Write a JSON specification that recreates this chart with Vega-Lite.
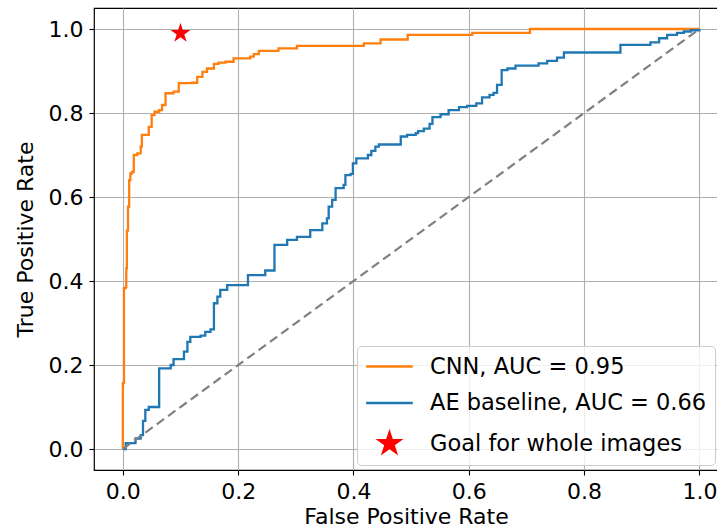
{
  "$schema": "https://vega.github.io/schema/vega-lite/v6.json",
  "width": 624,
  "height": 462,
  "autosize": {"type": "none"},
  "padding": {"left": 94, "top": 8, "right": 0, "bottom": 58},
  "background": "white",
  "config": {
    "font": "DejaVu Sans",
    "view": {"stroke": "#000000", "strokeWidth": 1.2},
    "axis": {
      "domain": false,
      "grid": true,
      "gridColor": "#b0b0b0",
      "gridWidth": 1.1,
      "tickColor": "#000000",
      "tickSize": 5,
      "tickWidth": 1.1,
      "labelFont": "DejaVu Sans",
      "labelFontSize": 22,
      "labelColor": "#000000",
      "labelPadding": 6,
      "titleFont": "DejaVu Sans",
      "titleFontSize": 22,
      "titleFontWeight": "normal",
      "titleColor": "#000000"
    }
  },
  "datasets": {
    "curves": [
      {"series": "CNN, AUC = 0.95", "i": 0, "fpr": 0.0, "tpr": 0.0},
      {"series": "CNN, AUC = 0.95", "i": 1, "fpr": 0.0, "tpr": 0.157},
      {"series": "CNN, AUC = 0.95", "i": 2, "fpr": 0.002, "tpr": 0.16},
      {"series": "CNN, AUC = 0.95", "i": 3, "fpr": 0.002, "tpr": 0.383},
      {"series": "CNN, AUC = 0.95", "i": 4, "fpr": 0.005, "tpr": 0.386},
      {"series": "CNN, AUC = 0.95", "i": 5, "fpr": 0.006, "tpr": 0.43},
      {"series": "CNN, AUC = 0.95", "i": 6, "fpr": 0.007, "tpr": 0.52},
      {"series": "CNN, AUC = 0.95", "i": 7, "fpr": 0.009, "tpr": 0.577},
      {"series": "CNN, AUC = 0.95", "i": 8, "fpr": 0.011, "tpr": 0.633},
      {"series": "CNN, AUC = 0.95", "i": 9, "fpr": 0.011, "tpr": 0.64},
      {"series": "CNN, AUC = 0.95", "i": 10, "fpr": 0.013, "tpr": 0.656},
      {"series": "CNN, AUC = 0.95", "i": 11, "fpr": 0.016, "tpr": 0.66},
      {"series": "CNN, AUC = 0.95", "i": 12, "fpr": 0.019, "tpr": 0.7},
      {"series": "CNN, AUC = 0.95", "i": 13, "fpr": 0.025, "tpr": 0.704},
      {"series": "CNN, AUC = 0.95", "i": 14, "fpr": 0.031, "tpr": 0.72},
      {"series": "CNN, AUC = 0.95", "i": 15, "fpr": 0.033, "tpr": 0.748},
      {"series": "CNN, AUC = 0.95", "i": 16, "fpr": 0.042, "tpr": 0.748},
      {"series": "CNN, AUC = 0.95", "i": 17, "fpr": 0.045, "tpr": 0.767},
      {"series": "CNN, AUC = 0.95", "i": 18, "fpr": 0.05, "tpr": 0.795},
      {"series": "CNN, AUC = 0.95", "i": 19, "fpr": 0.055, "tpr": 0.803},
      {"series": "CNN, AUC = 0.95", "i": 20, "fpr": 0.063, "tpr": 0.807},
      {"series": "CNN, AUC = 0.95", "i": 21, "fpr": 0.068, "tpr": 0.819},
      {"series": "CNN, AUC = 0.95", "i": 22, "fpr": 0.074, "tpr": 0.847},
      {"series": "CNN, AUC = 0.95", "i": 23, "fpr": 0.088, "tpr": 0.851},
      {"series": "CNN, AUC = 0.95", "i": 24, "fpr": 0.097, "tpr": 0.871},
      {"series": "CNN, AUC = 0.95", "i": 25, "fpr": 0.12, "tpr": 0.872},
      {"series": "CNN, AUC = 0.95", "i": 26, "fpr": 0.129, "tpr": 0.886},
      {"series": "CNN, AUC = 0.95", "i": 27, "fpr": 0.138, "tpr": 0.898},
      {"series": "CNN, AUC = 0.95", "i": 28, "fpr": 0.146, "tpr": 0.906},
      {"series": "CNN, AUC = 0.95", "i": 29, "fpr": 0.158, "tpr": 0.917},
      {"series": "CNN, AUC = 0.95", "i": 30, "fpr": 0.166, "tpr": 0.92},
      {"series": "CNN, AUC = 0.95", "i": 31, "fpr": 0.178, "tpr": 0.922},
      {"series": "CNN, AUC = 0.95", "i": 32, "fpr": 0.192, "tpr": 0.93},
      {"series": "CNN, AUC = 0.95", "i": 33, "fpr": 0.221, "tpr": 0.934},
      {"series": "CNN, AUC = 0.95", "i": 34, "fpr": 0.227, "tpr": 0.94},
      {"series": "CNN, AUC = 0.95", "i": 35, "fpr": 0.236, "tpr": 0.948},
      {"series": "CNN, AUC = 0.95", "i": 36, "fpr": 0.27, "tpr": 0.954},
      {"series": "CNN, AUC = 0.95", "i": 37, "fpr": 0.302, "tpr": 0.96},
      {"series": "CNN, AUC = 0.95", "i": 38, "fpr": 0.418, "tpr": 0.96},
      {"series": "CNN, AUC = 0.95", "i": 39, "fpr": 0.418, "tpr": 0.966},
      {"series": "CNN, AUC = 0.95", "i": 40, "fpr": 0.447, "tpr": 0.966},
      {"series": "CNN, AUC = 0.95", "i": 41, "fpr": 0.447, "tpr": 0.975},
      {"series": "CNN, AUC = 0.95", "i": 42, "fpr": 0.494, "tpr": 0.975},
      {"series": "CNN, AUC = 0.95", "i": 43, "fpr": 0.494, "tpr": 0.986},
      {"series": "CNN, AUC = 0.95", "i": 44, "fpr": 0.606, "tpr": 0.986},
      {"series": "CNN, AUC = 0.95", "i": 45, "fpr": 0.606, "tpr": 0.991},
      {"series": "CNN, AUC = 0.95", "i": 46, "fpr": 0.706, "tpr": 0.991},
      {"series": "CNN, AUC = 0.95", "i": 47, "fpr": 0.706, "tpr": 1.0},
      {"series": "CNN, AUC = 0.95", "i": 48, "fpr": 1.0, "tpr": 1.0},
      {"series": "AE baseline, AUC = 0.66", "i": 0, "fpr": 0.0, "tpr": 0.0},
      {"series": "AE baseline, AUC = 0.66", "i": 1, "fpr": 0.005, "tpr": 0.014},
      {"series": "AE baseline, AUC = 0.66", "i": 2, "fpr": 0.022, "tpr": 0.014},
      {"series": "AE baseline, AUC = 0.66", "i": 3, "fpr": 0.022, "tpr": 0.025},
      {"series": "AE baseline, AUC = 0.66", "i": 4, "fpr": 0.031, "tpr": 0.033},
      {"series": "AE baseline, AUC = 0.66", "i": 5, "fpr": 0.035, "tpr": 0.033},
      {"series": "AE baseline, AUC = 0.66", "i": 6, "fpr": 0.035, "tpr": 0.067},
      {"series": "AE baseline, AUC = 0.66", "i": 7, "fpr": 0.039, "tpr": 0.067},
      {"series": "AE baseline, AUC = 0.66", "i": 8, "fpr": 0.039, "tpr": 0.093},
      {"series": "AE baseline, AUC = 0.66", "i": 9, "fpr": 0.045, "tpr": 0.1},
      {"series": "AE baseline, AUC = 0.66", "i": 10, "fpr": 0.063, "tpr": 0.1},
      {"series": "AE baseline, AUC = 0.66", "i": 11, "fpr": 0.063, "tpr": 0.192},
      {"series": "AE baseline, AUC = 0.66", "i": 12, "fpr": 0.083, "tpr": 0.2},
      {"series": "AE baseline, AUC = 0.66", "i": 13, "fpr": 0.088, "tpr": 0.2},
      {"series": "AE baseline, AUC = 0.66", "i": 14, "fpr": 0.088, "tpr": 0.214},
      {"series": "AE baseline, AUC = 0.66", "i": 15, "fpr": 0.103, "tpr": 0.214},
      {"series": "AE baseline, AUC = 0.66", "i": 16, "fpr": 0.106, "tpr": 0.232},
      {"series": "AE baseline, AUC = 0.66", "i": 17, "fpr": 0.112, "tpr": 0.255},
      {"series": "AE baseline, AUC = 0.66", "i": 18, "fpr": 0.117, "tpr": 0.267},
      {"series": "AE baseline, AUC = 0.66", "i": 19, "fpr": 0.135, "tpr": 0.27},
      {"series": "AE baseline, AUC = 0.66", "i": 20, "fpr": 0.143, "tpr": 0.279},
      {"series": "AE baseline, AUC = 0.66", "i": 21, "fpr": 0.152, "tpr": 0.285},
      {"series": "AE baseline, AUC = 0.66", "i": 22, "fpr": 0.158, "tpr": 0.295},
      {"series": "AE baseline, AUC = 0.66", "i": 23, "fpr": 0.158, "tpr": 0.347},
      {"series": "AE baseline, AUC = 0.66", "i": 24, "fpr": 0.164, "tpr": 0.363},
      {"series": "AE baseline, AUC = 0.66", "i": 25, "fpr": 0.169, "tpr": 0.379},
      {"series": "AE baseline, AUC = 0.66", "i": 26, "fpr": 0.181, "tpr": 0.379},
      {"series": "AE baseline, AUC = 0.66", "i": 27, "fpr": 0.181, "tpr": 0.39},
      {"series": "AE baseline, AUC = 0.66", "i": 28, "fpr": 0.216, "tpr": 0.39},
      {"series": "AE baseline, AUC = 0.66", "i": 29, "fpr": 0.217, "tpr": 0.414},
      {"series": "AE baseline, AUC = 0.66", "i": 30, "fpr": 0.247, "tpr": 0.414},
      {"series": "AE baseline, AUC = 0.66", "i": 31, "fpr": 0.247, "tpr": 0.425},
      {"series": "AE baseline, AUC = 0.66", "i": 32, "fpr": 0.263, "tpr": 0.425},
      {"series": "AE baseline, AUC = 0.66", "i": 33, "fpr": 0.263, "tpr": 0.486},
      {"series": "AE baseline, AUC = 0.66", "i": 34, "fpr": 0.285, "tpr": 0.486},
      {"series": "AE baseline, AUC = 0.66", "i": 35, "fpr": 0.285, "tpr": 0.498},
      {"series": "AE baseline, AUC = 0.66", "i": 36, "fpr": 0.302, "tpr": 0.498},
      {"series": "AE baseline, AUC = 0.66", "i": 37, "fpr": 0.302, "tpr": 0.505},
      {"series": "AE baseline, AUC = 0.66", "i": 38, "fpr": 0.322, "tpr": 0.505},
      {"series": "AE baseline, AUC = 0.66", "i": 39, "fpr": 0.325, "tpr": 0.521},
      {"series": "AE baseline, AUC = 0.66", "i": 40, "fpr": 0.346, "tpr": 0.537},
      {"series": "AE baseline, AUC = 0.66", "i": 41, "fpr": 0.354, "tpr": 0.549},
      {"series": "AE baseline, AUC = 0.66", "i": 42, "fpr": 0.357, "tpr": 0.577},
      {"series": "AE baseline, AUC = 0.66", "i": 43, "fpr": 0.363, "tpr": 0.593},
      {"series": "AE baseline, AUC = 0.66", "i": 44, "fpr": 0.369, "tpr": 0.593},
      {"series": "AE baseline, AUC = 0.66", "i": 45, "fpr": 0.369, "tpr": 0.621},
      {"series": "AE baseline, AUC = 0.66", "i": 46, "fpr": 0.383, "tpr": 0.621},
      {"series": "AE baseline, AUC = 0.66", "i": 47, "fpr": 0.383, "tpr": 0.629},
      {"series": "AE baseline, AUC = 0.66", "i": 48, "fpr": 0.386, "tpr": 0.652},
      {"series": "AE baseline, AUC = 0.66", "i": 49, "fpr": 0.395, "tpr": 0.655},
      {"series": "AE baseline, AUC = 0.66", "i": 50, "fpr": 0.399, "tpr": 0.68},
      {"series": "AE baseline, AUC = 0.66", "i": 51, "fpr": 0.405, "tpr": 0.692},
      {"series": "AE baseline, AUC = 0.66", "i": 52, "fpr": 0.423, "tpr": 0.692},
      {"series": "AE baseline, AUC = 0.66", "i": 53, "fpr": 0.425, "tpr": 0.7},
      {"series": "AE baseline, AUC = 0.66", "i": 54, "fpr": 0.431, "tpr": 0.71},
      {"series": "AE baseline, AUC = 0.66", "i": 55, "fpr": 0.438, "tpr": 0.72},
      {"series": "AE baseline, AUC = 0.66", "i": 56, "fpr": 0.444, "tpr": 0.725},
      {"series": "AE baseline, AUC = 0.66", "i": 57, "fpr": 0.482, "tpr": 0.725},
      {"series": "AE baseline, AUC = 0.66", "i": 58, "fpr": 0.482, "tpr": 0.744},
      {"series": "AE baseline, AUC = 0.66", "i": 59, "fpr": 0.493, "tpr": 0.748},
      {"series": "AE baseline, AUC = 0.66", "i": 60, "fpr": 0.508, "tpr": 0.752},
      {"series": "AE baseline, AUC = 0.66", "i": 61, "fpr": 0.512, "tpr": 0.757},
      {"series": "AE baseline, AUC = 0.66", "i": 62, "fpr": 0.522, "tpr": 0.763},
      {"series": "AE baseline, AUC = 0.66", "i": 63, "fpr": 0.532, "tpr": 0.774},
      {"series": "AE baseline, AUC = 0.66", "i": 64, "fpr": 0.537, "tpr": 0.79},
      {"series": "AE baseline, AUC = 0.66", "i": 65, "fpr": 0.551, "tpr": 0.797},
      {"series": "AE baseline, AUC = 0.66", "i": 66, "fpr": 0.565, "tpr": 0.807},
      {"series": "AE baseline, AUC = 0.66", "i": 67, "fpr": 0.583, "tpr": 0.814},
      {"series": "AE baseline, AUC = 0.66", "i": 68, "fpr": 0.597, "tpr": 0.817},
      {"series": "AE baseline, AUC = 0.66", "i": 69, "fpr": 0.613, "tpr": 0.823},
      {"series": "AE baseline, AUC = 0.66", "i": 70, "fpr": 0.623, "tpr": 0.837},
      {"series": "AE baseline, AUC = 0.66", "i": 71, "fpr": 0.636, "tpr": 0.843},
      {"series": "AE baseline, AUC = 0.66", "i": 72, "fpr": 0.643, "tpr": 0.848},
      {"series": "AE baseline, AUC = 0.66", "i": 73, "fpr": 0.649, "tpr": 0.867},
      {"series": "AE baseline, AUC = 0.66", "i": 74, "fpr": 0.657, "tpr": 0.902},
      {"series": "AE baseline, AUC = 0.66", "i": 75, "fpr": 0.667, "tpr": 0.906},
      {"series": "AE baseline, AUC = 0.66", "i": 76, "fpr": 0.681, "tpr": 0.913},
      {"series": "AE baseline, AUC = 0.66", "i": 77, "fpr": 0.721, "tpr": 0.913},
      {"series": "AE baseline, AUC = 0.66", "i": 78, "fpr": 0.721, "tpr": 0.918},
      {"series": "AE baseline, AUC = 0.66", "i": 79, "fpr": 0.736, "tpr": 0.924},
      {"series": "AE baseline, AUC = 0.66", "i": 80, "fpr": 0.753, "tpr": 0.932},
      {"series": "AE baseline, AUC = 0.66", "i": 81, "fpr": 0.765, "tpr": 0.944},
      {"series": "AE baseline, AUC = 0.66", "i": 82, "fpr": 0.863, "tpr": 0.944},
      {"series": "AE baseline, AUC = 0.66", "i": 83, "fpr": 0.863, "tpr": 0.962},
      {"series": "AE baseline, AUC = 0.66", "i": 84, "fpr": 0.915, "tpr": 0.962},
      {"series": "AE baseline, AUC = 0.66", "i": 85, "fpr": 0.915, "tpr": 0.968},
      {"series": "AE baseline, AUC = 0.66", "i": 86, "fpr": 0.93, "tpr": 0.978},
      {"series": "AE baseline, AUC = 0.66", "i": 87, "fpr": 0.944, "tpr": 0.986},
      {"series": "AE baseline, AUC = 0.66", "i": 88, "fpr": 0.961, "tpr": 0.991},
      {"series": "AE baseline, AUC = 0.66", "i": 89, "fpr": 0.973, "tpr": 0.994},
      {"series": "AE baseline, AUC = 0.66", "i": 90, "fpr": 0.985, "tpr": 0.997},
      {"series": "AE baseline, AUC = 0.66", "i": 91, "fpr": 1.0, "tpr": 1.0}
    ],
    "diag": [
      {"fpr": 0.0, "tpr": 0.0},
      {"fpr": 1.0, "tpr": 1.0}
    ],
    "goal": [
      {"series": "Goal for whole images", "fpr": 0.1, "tpr": 0.99}
    ]
  },
  "encoding": {
    "x": {
      "field": "fpr", "type": "quantitative",
      "scale": {"domain": [-0.05, 1.0322], "nice": false, "zero": false},
      "axis": {"values": [0, 0.2, 0.4, 0.6, 0.8, 1.0], "format": ".1f", "title": "False Positive Rate", "titlePadding": 4}
    },
    "y": {
      "field": "tpr", "type": "quantitative",
      "scale": {"domain": [-0.05, 1.05], "nice": false, "zero": false},
      "axis": {"values": [0, 0.2, 0.4, 0.6, 0.8, 1.0], "format": ".1f", "title": "True Positive Rate", "titlePadding": 11}
    }
  },
  "layer": [
    {
      "data": {"name": "curves"},
      "mark": {"type": "line", "interpolate": "step-after", "strokeWidth": 2.3, "clip": true},
      "encoding": {
        "order": {"field": "i", "type": "quantitative"},
        "color": {
          "field": "series", "type": "nominal",
          "scale": {
            "domain": ["CNN, AUC = 0.95", "AE baseline, AUC = 0.66", "Goal for whole images"],
            "range": ["#ff7f0e", "#1f77b4", "#ff0000"]
          },
          "legend": {
            "title": null,
            "orient": "none",
            "legendX": 263,
            "legendY": 338,
            "labelFont": "DejaVu Sans",
            "labelFontSize": 22.5,
            "labelColor": "#000000",
            "labelOffset": 28,
            "labelLimit": 400,
            "strokeColor": "#cccccc",
            "fillColor": "rgba(255,255,255,0.8)",
            "cornerRadius": 4,
            "padding": 8,
            "rowPadding": 12.5,
            "symbolType": "stroke",
            "symbolSize": 484,
            "symbolStrokeWidth": 2.3,
            "symbolOffset": 12,
            "encode": {
              "symbols": {
                "update": {
                  "shape": {"signal": "datum.label == 'Goal for whole images' ? 'M0,-1L0.2245,-0.309L0.951,-0.309L0.363,0.118L0.588,0.809L0,0.382L-0.588,0.809L-0.363,0.118L-0.951,-0.309L-0.2245,-0.309Z' : 'M-2.12,0L2.12,0'"},
                  "size": {"value": 484},
                  "fill": {"signal": "datum.label == 'Goal for whole images' ? '#ff0000' : 'transparent'"},
                  "stroke": {"signal": "datum.label == 'Goal for whole images' ? 'transparent' : (datum.label == 'CNN, AUC = 0.95' ? '#ff7f0e' : '#1f77b4')"},
                  "strokeWidth": {"value": 2.3},
                  "opacity": {"value": 1}
                }
              }
            }
          }
        }
      }
    },
    {
      "data": {"name": "diag"},
      "mark": {"type": "line", "color": "#808080", "strokeWidth": 2.2, "strokeDash": [9, 5]}
    },
    {
      "data": {"name": "goal"},
      "mark": {"type": "point", "shape": "M0,-1L0.2245,-0.309L0.951,-0.309L0.363,0.118L0.588,0.809L0,0.382L-0.588,0.809L-0.363,0.118L-0.951,-0.309L-0.2245,-0.309Z", "filled": true, "size": 440, "opacity": 1},
      "encoding": {
        "color": {"field": "series", "type": "nominal"}
      }
    }
  ]
}
